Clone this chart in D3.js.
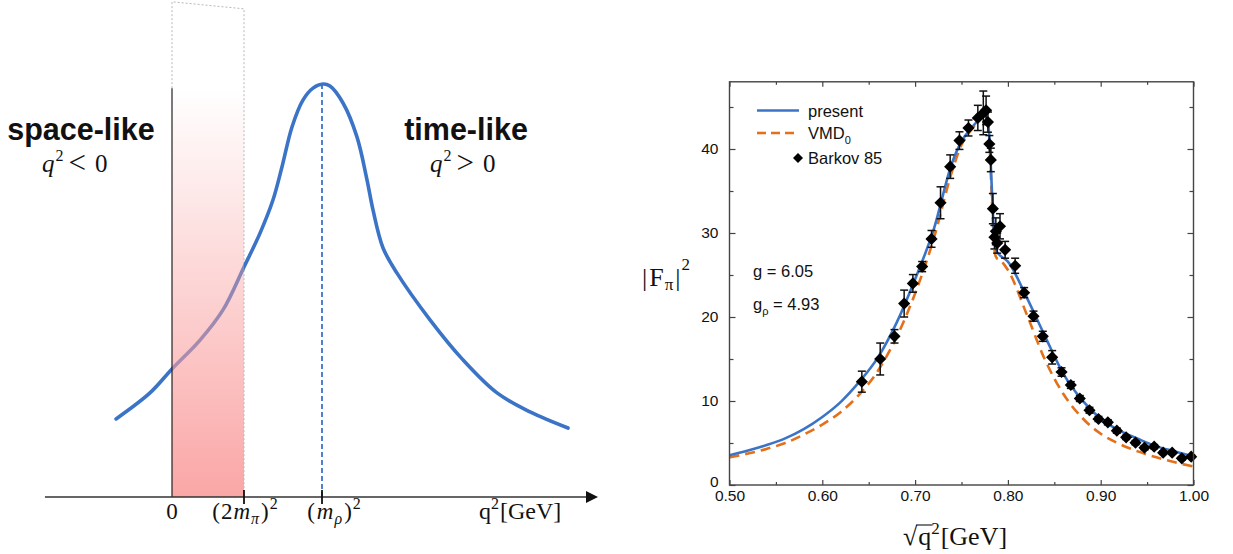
<!DOCTYPE html>
<html><head><meta charset="utf-8">
<script src="https://cdn.jsdelivr.net/npm/d3@7"></script>
<style>body{margin:0;background:#fff} svg{display:block}</style>
</head><body><svg id="c" width="1233" height="554"></svg>
<script>
// ---------- Left schematic data (arbitrary units: q^2 in units of m_rho^2, height normalized to peak) ----------
const schemQ2 = [-0.373,-0.147,0,0.187,0.34,0.48,0.587,0.673,0.733,0.80,0.873,0.94,1.007,1.053,1.14,1.233,1.30,1.34,1.407,1.50,1.72,1.94,2.167,2.387,2.64];
const schemF  = [0.189,0.252,0.310,0.380,0.453,0.557,0.639,0.719,0.799,0.896,0.961,0.990,1.0,0.995,0.954,0.872,0.768,0.695,0.603,0.542,0.429,0.332,0.252,0.206,0.167];
const schemTickVals = [0, 0.48, 1.0];
const schemAxisRange = [-0.847, 2.84];
const shadeRange = [0, 0.48];
const shadeTop = 0.99;
const outlineTop = [1.199, 1.182];

// ---------- Right plot data ----------
const presentX = [0.50,0.52,0.54,0.56,0.58,0.60,0.62,0.64,0.66,0.68,0.70,0.72,0.74,0.75,0.76,0.77,0.775,0.778,0.780,0.782,0.784,0.786,0.788,0.79,0.80,0.82,0.84,0.86,0.88,0.90,0.92,0.94,0.96,0.98,1.00];
const presentY = [3.55,4.1,4.75,5.55,6.65,8.1,9.9,12.3,15.2,19.3,24.5,30.4,38.4,40.9,42.4,43.6,44.0,43.5,41.5,37.0,32.0,28.6,27.8,27.5,26.6,22.4,17.7,13.2,10.1,7.9,6.5,5.5,4.6,4.0,3.4];
const vmdX = [0.50,0.52,0.54,0.56,0.58,0.60,0.62,0.64,0.66,0.68,0.70,0.72,0.74,0.75,0.76,0.77,0.775,0.778,0.780,0.782,0.784,0.786,0.788,0.79,0.80,0.82,0.84,0.86,0.88,0.90,0.92,0.94,0.96,0.98,1.00];
const vmdY = [3.3,3.75,4.3,5.0,6.0,7.2,8.7,10.8,13.6,17.6,22.8,29.3,37.4,40.5,42.2,43.5,44.0,43.3,41.0,36.0,31.0,27.6,27.0,26.9,25.6,20.4,14.9,10.8,8.0,6.1,4.9,4.0,3.3,2.7,2.2];
const barkovX = [0.6426,0.6624,0.6778,0.6882,0.6976,0.7076,0.7177,0.7274,0.7378,0.7478,0.7575,0.7676,0.7735,0.7765,0.7785,0.7800,0.7816,0.7838,0.7855,0.7870,0.7885,0.7915,0.7970,0.8078,0.8175,0.8276,0.8376,0.8477,0.8578,0.8678,0.8775,0.8879,0.8976,0.9077,0.9174,0.9274,0.9375,0.9472,0.9576,0.9673,0.9770,0.9874,0.9975];
const barkovY = [12.3,15.0,17.7,21.6,24.0,26.0,29.3,33.6,37.9,41.0,42.5,43.7,44.3,44.6,43.2,40.6,38.7,32.9,29.5,30.2,28.8,30.8,28.0,26.1,22.9,20.1,17.7,15.2,13.45,11.9,10.3,8.9,7.86,7.46,6.47,5.67,5.04,4.44,4.56,3.85,3.85,3.17,3.37];
const barkovErr = [1.25,1.9,0.8,1.6,1.05,0.6,1.0,1.9,1.4,1.05,0.95,1.5,2.6,1.7,1.2,1.0,1.4,1.8,1.4,1.6,1.2,1.5,1.0,0.9,0.6,0.6,0.6,0.8,0.5,0.4,0.35,0.35,0.3,0.3,0.3,0.25,0.25,0.25,0.25,0.2,0.2,0.2,0.2];
const xTickValues = [0.50,0.60,0.70,0.80,0.90,1.00];
const xMinorTicks = [0.55,0.65,0.75,0.85,0.95];
const yTickValues = [0,10,20,30,40];
const yMinorTicks = [5,15,25,35,45];
const legendLabels = ["present","VMD","Barkov 85"];
const paramLabels = [["g"," = 6.05"],["g","ρ"," = 4.93"]];

const BLUE = "#3b74c7", ORANGE = "#e3701b";
const svg = d3.select("#c");
const SANS = "'Liberation Sans', Arial, sans-serif";
const SERIF = "'Liberation Serif', 'Times New Roman', serif";

// ================= LEFT PANEL =================
const lx = d3.scaleLinear().domain([0,1]).range([172,322]);
const ly = d3.scaleLinear().domain([0,1]).range([497,84]);
const L = svg.append("g");

const defs = svg.append("defs");
const grad = defs.append("linearGradient").attr("id","pinkgrad").attr("x1",0).attr("y1",0).attr("x2",0).attr("y2",1);
grad.append("stop").attr("offset","0%").attr("stop-color","#fa9e9e").attr("stop-opacity",0);
grad.append("stop").attr("offset","100%").attr("stop-color","#fa9c9c").attr("stop-opacity",0.9);

// dashed outline
L.append("path")
  .attr("d", d3.line()([[lx(shadeRange[0]),ly(shadeTop)],[lx(shadeRange[0]),ly(outlineTop[0])],[lx(shadeRange[1]),ly(outlineTop[1])],[lx(shadeRange[1]),ly(0)]]))
  .attr("fill","none").attr("stroke","#b8b8b8").attr("stroke-width",1).attr("stroke-dasharray","2,2");

// curve
L.append("path")
  .datum(schemQ2.map((q,i)=>[q,schemF[i]]))
  .attr("d", d3.line().x(d=>lx(d[0])).y(d=>ly(d[1])).curve(d3.curveCatmullRom.alpha(0.5)))
  .attr("fill","none").attr("stroke",BLUE).attr("stroke-width",3.6).attr("stroke-linecap","round");

// shaded region over curve
L.append("rect")
  .attr("x", lx(shadeRange[0])).attr("y", ly(shadeTop))
  .attr("width", lx(shadeRange[1]) - lx(shadeRange[0])).attr("height", ly(0) - ly(shadeTop))
  .attr("fill","url(#pinkgrad)");

// black vertical line at q^2=0
L.append("line").attr("x1",lx(0)).attr("x2",lx(0)).attr("y1",ly(shadeTop)).attr("y2",ly(0))
  .attr("stroke","#222").attr("stroke-width",1.2);

// dashed rho line
L.append("line").attr("x1",lx(1)).attr("x2",lx(1)).attr("y1",ly(1)).attr("y2",ly(0))
  .attr("stroke",BLUE).attr("stroke-width",1.8).attr("stroke-dasharray","5,3");

// axis
L.append("line").attr("x1",lx(schemAxisRange[0])).attr("x2",lx(schemAxisRange[1])-8).attr("y1",ly(0)).attr("y2",ly(0))
  .attr("stroke","#333").attr("stroke-width",1.5);
L.append("path").attr("d", `M${lx(schemAxisRange[1])},${ly(0)} l-12,-6 l0,12 z`).attr("fill","#111");
L.selectAll(".stk").data(schemTickVals.slice(1)).join("line")
  .attr("x1",d=>lx(d)).attr("x2",d=>lx(d)).attr("y1",ly(0)-7).attr("y2",ly(0)+7)
  .attr("stroke","#111").attr("stroke-width",1.8);

function rich(g, x, y, parts, size, family, anchor){
  const t = g.append("text").attr("x",x).attr("y",y).attr("font-size",size).attr("font-family",family).attr("text-anchor",anchor||"start").attr("fill","#111");
  let cur = 0;
  parts.forEach(p=>{
    const sh = p.shift||0;
    const s = t.append("tspan").text(p.t).attr("dy", sh - cur);
    cur = sh;
    if(p.it) s.attr("font-style","italic");
    if(p.size) s.attr("font-size",p.size);
    if(p.w) s.attr("font-weight",p.w);
    if(p.dx) s.attr("dx",p.dx);
  });
  return t;
}

// bottom labels
rich(L, lx(0), 519, [{t:"0"}], 23, SERIF, "middle");
rich(L, lx(0.48)+1, 519, [{t:"("},{t:"2",dx:1},{t:"m",it:1,dx:1},{t:"π",it:1,size:16,shift:5,dx:1},{t:")",dx:2},{t:"2",size:16,shift:-10,dx:1}], 23, SERIF, "middle");
rich(L, 334, 519, [{t:"("},{t:"m",it:1,dx:2},{t:"ρ",it:1,size:16,shift:5,dx:1},{t:")",dx:2},{t:"2",size:16,shift:-10,dx:1}], 23, SERIF, "middle");
rich(L, 479, 519, [{t:"q"},{t:"2",size:16,shift:-10},{t:"[GeV]",dx:1}], 24, SERIF, "start");

// region labels
L.append("text").attr("x",81).attr("y",140).attr("text-anchor","middle").attr("font-family",SANS).attr("font-weight","bold").attr("font-size",30.5).attr("fill","#111").text("space-like");
rich(L, 42, 172, [{t:"q",it:1},{t:"2",size:16,shift:-11,dx:1},{t:"<",size:31,shift:1,dx:5},{t:"0",dx:9}], 25, SERIF, "start");
L.append("text").attr("x",466).attr("y",140).attr("text-anchor","middle").attr("font-family",SANS).attr("font-weight","bold").attr("font-size",30.5).attr("fill","#111").text("time-like");
rich(L, 430, 172, [{t:"q",it:1},{t:"2",size:16,shift:-11,dx:1},{t:">",size:31,shift:1,dx:5},{t:"0",dx:9}], 25, SERIF, "start");

// ================= RIGHT PANEL =================
const x = d3.scaleLinear().domain([0.5,1.0]).range([729.5,1193.5]);
const y = d3.scaleLinear().domain([0,48]).range([485,81.8]);
const R = svg.append("g");
const AX = "#444";

// curves
R.append("path").datum(vmdX.map((v,i)=>[v,vmdY[i]]))
  .attr("d", d3.line().x(d=>x(d[0])).y(d=>y(d[1])).curve(d3.curveMonotoneX))
  .attr("fill","none").attr("stroke",ORANGE).attr("stroke-width",2.6).attr("stroke-dasharray","10,6");
R.append("path").datum(presentX.map((v,i)=>[v,presentY[i]]))
  .attr("d", d3.line().x(d=>x(d[0])).y(d=>y(d[1])).curve(d3.curveMonotoneX))
  .attr("fill","none").attr("stroke",BLUE).attr("stroke-width",2.6);

// error bars
const eb = R.append("g").attr("stroke","#111").attr("stroke-width",1.5);
barkovX.forEach((bx,i)=>{
  const cx = x(bx), y0 = y(barkovY[i]-barkovErr[i]), y1 = y(barkovY[i]+barkovErr[i]);
  eb.append("line").attr("x1",cx).attr("x2",cx).attr("y1",y0).attr("y2",y1);
  eb.append("line").attr("x1",cx-4).attr("x2",cx+4).attr("y1",y0).attr("y2",y0);
  eb.append("line").attr("x1",cx-4).attr("x2",cx+4).attr("y1",y1).attr("y2",y1);
});
const sym = d3.symbol().type(d3.symbolSquare).size(74);
R.selectAll(".pt").data(barkovX.map((v,i)=>[v,barkovY[i]])).join("path")
  .attr("d", sym).attr("transform", d=>`translate(${x(d[0])},${y(d[1])}) rotate(45)`).attr("fill","#000");

// frame
R.append("rect").attr("x",x(0.5)).attr("y",y(48)).attr("width",x(1)-x(0.5)).attr("height",y(0)-y(48))
  .attr("fill","none").attr("stroke",AX).attr("stroke-width",1.4);

function styleAxis(g){ g.select(".domain").remove(); g.selectAll(".tick line").attr("stroke",AX).attr("stroke-width",1.2);
  g.selectAll(".tick text").attr("font-family",SANS).attr("font-size",15.5).attr("fill","#111"); }
R.append("g").attr("transform",`translate(0,${y(0)})`).call(d3.axisBottom(x).tickValues(xTickValues).tickFormat(d3.format(".2f")).tickSize(-5).tickPadding(5)).call(styleAxis);
R.append("g").attr("transform",`translate(0,${y(0)})`).call(d3.axisBottom(x).tickValues(xMinorTicks).tickFormat("").tickSize(-3)).call(styleAxis);
R.append("g").attr("transform",`translate(0,${y(48)})`).call(d3.axisTop(x).tickValues(xTickValues).tickFormat("").tickSize(-5)).call(styleAxis);
R.append("g").attr("transform",`translate(0,${y(48)})`).call(d3.axisTop(x).tickValues(xMinorTicks).tickFormat("").tickSize(-3)).call(styleAxis);
const yAx = R.append("g").attr("transform",`translate(${x(0.5)},0)`).call(d3.axisLeft(y).tickValues(yTickValues).tickFormat(d3.format("d")).tickSize(-6).tickPadding(11)).call(styleAxis);
yAx.selectAll(".tick text").filter(d=>d===0).attr("dy","0.1em");
R.append("g").attr("transform",`translate(${x(0.5)},0)`).call(d3.axisLeft(y).tickValues(yMinorTicks).tickFormat("").tickSize(-4)).call(styleAxis);
R.append("g").attr("transform",`translate(${x(1)},0)`).call(d3.axisRight(y).tickValues(yTickValues).tickFormat("").tickSize(-6)).call(styleAxis);
R.append("g").attr("transform",`translate(${x(1)},0)`).call(d3.axisRight(y).tickValues(yMinorTicks).tickFormat("").tickSize(-4)).call(styleAxis);

// legend
R.append("line").attr("x1",757).attr("x2",799).attr("y1",110.5).attr("y2",110.5).attr("stroke",BLUE).attr("stroke-width",2.6);
R.append("line").attr("x1",757).attr("x2",799).attr("y1",133).attr("y2",133).attr("stroke",ORANGE).attr("stroke-width",2.6).attr("stroke-dasharray","9,5");
R.append("path").attr("d", d3.symbol().type(d3.symbolSquare).size(50)).attr("transform","translate(798,158) rotate(45)").attr("fill","#000");
rich(R, 808, 116.5, [{t:legendLabels[0]}], 16.5, SANS);
rich(R, 808, 139, [{t:legendLabels[1]},{t:"0",size:11,shift:5}], 16.5, SANS);
rich(R, 808, 164, [{t:legendLabels[2]}], 16.5, SANS);

// params
rich(R, 753, 277, [{t:paramLabels[0][0]},{t:paramLabels[0][1]}], 16.5, SANS);
rich(R, 753, 310, [{t:paramLabels[1][0]},{t:paramLabels[1][1],size:11,shift:5},{t:paramLabels[1][2]}], 16.5, SANS);

// axis titles
rich(R, 642, 286, [{t:"|",dx:0},{t:"F",dx:2},{t:"π",size:17,shift:4,dx:1},{t:"|",dx:2},{t:"2",size:17,shift:-16,dx:1}], 26, SERIF);
const xt = rich(R, 955, 545, [{t:"√"},{t:"q",dx:1},{t:"2",size:17,shift:-11},{t:"[GeV]",dx:1}], 26, SERIF, "middle");
// overline of sqrt over q
{
  const n = xt.node();
  const e1 = n.getExtentOfChar(0), e2 = n.getExtentOfChar(1);
  R.append("line").attr("x1",e1.x+e1.width-1).attr("x2",e2.x+e2.width+1).attr("y1",e1.y+3).attr("y2",e1.y+3)
    .attr("stroke","#111").attr("stroke-width",1.1);
}
</script></body></html>
